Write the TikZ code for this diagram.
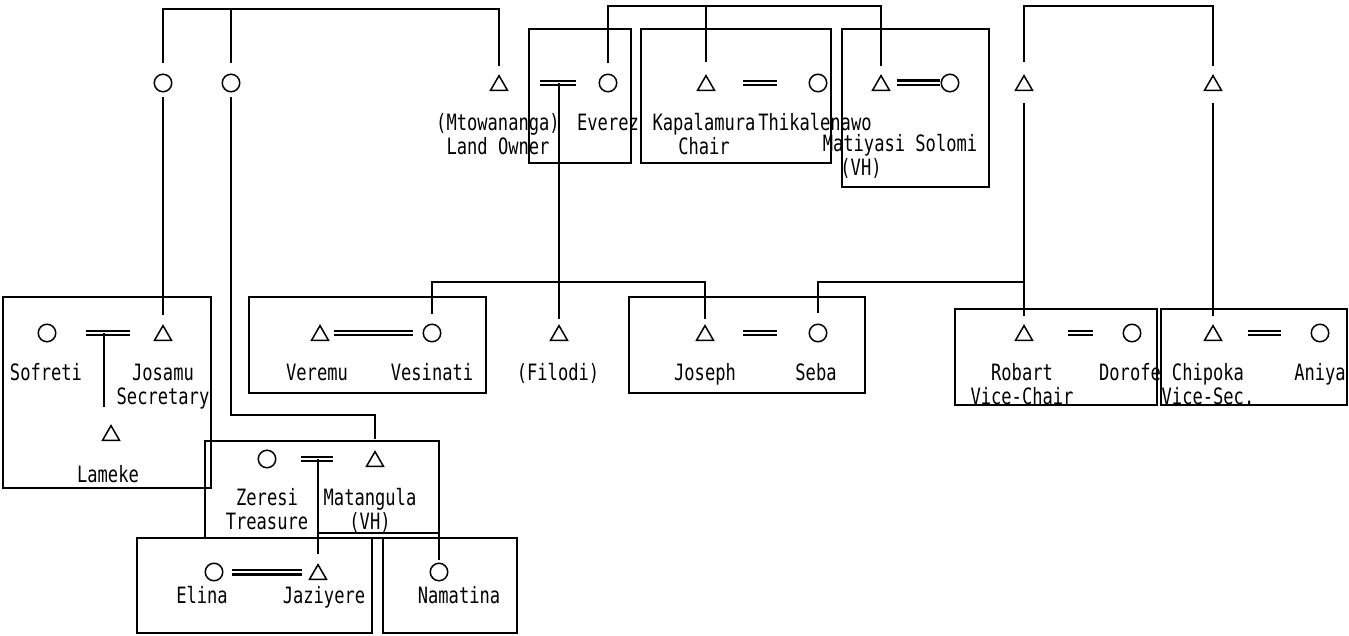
\documentclass[tikz,border=0pt]{standalone}
\usepackage{fontspec}
\newfontfamily\lblfont[FakeStretch=0.76]{DejaVu Sans Mono}
\usetikzlibrary{shapes.geometric,calc}
\begin{document}
\begin{tikzpicture}[x=1pt,y=-1pt,
  male/.style={regular polygon, regular polygon sides=3, draw, line width=1.5pt, minimum size=19.5pt, inner sep=0pt, yshift=-2.4pt},
  female/.style={circle, draw, line width=1.5pt, minimum size=17.5pt, inner sep=0pt},
  conn/.style={line width=1.3pt},
  marr/.style={double, line width=1.4pt, double distance=2.4pt},
  tmarr/.style={double, line width=2.8pt, double distance=1.4pt},
  frame/.style={line width=2pt},
  lab/.style={font=\lblfont\fontsize{22.5}{24}\selectfont, inner sep=0pt, anchor=base, align=center},
]
\useasboundingbox (0,0) rectangle (1349,636);

% ---------- frames ----------
\draw[frame] (529,29) rectangle (631,163);
\draw[frame] (641,29) rectangle (831,163);
\draw[frame] (842,29) rectangle (989,187);
\draw[frame] (3,297) rectangle (211,488);
\draw[frame] (249,297) rectangle (486,393);
\draw[frame] (629,297) rectangle (865,393);
\draw[frame] (955,309) rectangle (1157,405);
\draw[frame] (1161,309) rectangle (1347,405);
\draw[frame] (205,441) rectangle (439,538);
\draw[frame] (137,538) rectangle (372,633);
\draw[frame] (383,538) rectangle (517,633);

% ---------- symbols: row 1 ----------
\node[female] (c1) at (163,83) {};
\node[female] (c2) at (231,83) {};
\node[male] (tMt) at (499,83) {};
\node[female] (cEv) at (608,83) {};
\node[male] (tKap) at (706,83) {};
\node[female] (cThi) at (818,83) {};
\node[male] (tMat) at (881,83) {};
\node[female] (cSol) at (950,83) {};
\node[male] (tR1) at (1024,83) {};
\node[male] (tR2) at (1213,83) {};

% ---------- symbols: row 2 ----------
\node[female] (cSof) at (47,333) {};
\node[male] (tJos) at (163,333) {};
\node[male] (tLam) at (111,433) {};
\node[male] (tVer) at (320,333) {};
\node[female] (cVes) at (432,333) {};
\node[male] (tFil) at (559,333) {};
\node[male] (tJoe) at (705,333) {};
\node[female] (cSeb) at (818,333) {};
\node[male] (tRob) at (1024,333) {};
\node[female] (cDor) at (1132,333) {};
\node[male] (tChi) at (1213,333) {};
\node[female] (cAni) at (1320,333) {};

% ---------- symbols: row 3 ----------
\node[female] (cZer) at (267,459) {};
\node[male] (tMtg) at (375,459) {};
\node[female] (cEli) at (214,572) {};
\node[male] (tJaz) at (318,572) {};
\node[female] (cNam) at (439,572) {};

% ---------- marriage lines ----------
\coordinate (mEvA) at (540,83); \coordinate (mEvB) at (576,83); \coordinate (mEv) at (559,83);
\coordinate (mKapA) at (743,83); \coordinate (mKapB) at (777,83);
\coordinate (mMatA) at (897,83); \coordinate (mMatB) at (940,83);
\coordinate (mSofA) at (86,333); \coordinate (mSofB) at (130,333); \coordinate (mSof) at (104,333);
\coordinate (mVerA) at (334,333); \coordinate (mVerB) at (413,333);
\coordinate (mJoeA) at (743,333); \coordinate (mJoeB) at (777,333);
\coordinate (mRobA) at (1068,333); \coordinate (mRobB) at (1093,333);
\coordinate (mChiA) at (1248,333); \coordinate (mChiB) at (1281,333);
\coordinate (mZerA) at (301,459); \coordinate (mZerB) at (333,459); \coordinate (mZer) at (318,459);
\coordinate (mEliA) at (232,572); \coordinate (mEliB) at (302,572);

\draw[marr] (mEvA) -- (mEvB);
\draw[marr] (mKapA) -- (mKapB);
\draw[tmarr] (mMatA) -- (mMatB);
\draw[marr] (mSofA) -- (mSofB);
\draw[marr] (mVerA) -- (mVerB);
\draw[marr] (mJoeA) -- (mJoeB);
\draw[marr] (mRobA) -- (mRobB);
\draw[marr] (mChiA) -- (mChiB);
\draw[marr] (mZerA) -- (mZerB);
\draw[tmarr] (mEliA) -- (mEliB);

% ---------- connectors ----------
\coordinate (barA) at (300,9);
\draw[conn, shorten <=10pt, shorten >=8pt] (c1.north) |- (barA) -| (tMt.north);
\draw[conn, shorten >=10pt] (c2.north |- barA) -- (c2.north);

\coordinate (barB) at (750,6);
\draw[conn, shorten <=10pt, shorten >=8pt] (cEv.north) |- (barB) -| (tMat.north);
\draw[conn, shorten >=12pt] (tKap.north |- barB) -- (tKap.north);

\coordinate (barC) at (1100,6);
\draw[conn, shorten <=12pt, shorten >=8pt] (tR1.north) |- (barC) -| (tR2.north);

\draw[conn, shorten <=5pt, shorten >=9pt] (c1.south) -- (tJos.north);

\coordinate (bendC2) at (300,415);
\draw[conn, shorten <=5pt, shorten >=11pt] (c2.south) |- (bendC2) -| (tMtg.north);

\draw[conn, shorten >=5pt] (mEv) -- (tFil.north);

\coordinate (barD) at (600,282);
\draw[conn, shorten <=10pt, shorten >=5pt] (cVes.north) |- (barD) -| (tJoe.north);

\draw[conn, shorten <=12pt, shorten >=8pt] (tR1.south) -- (tRob.north);
\draw[conn, shorten <=11pt] (cSeb.north) |- (tR1.south |- barD);

\draw[conn, shorten <=12pt, shorten >=8pt] (tR2.south) -- (tChi.north);

\draw[conn, shorten >=17pt] (mSof) -- (mSof |- tLam.north);

\draw[conn, shorten >=9pt] (mZer) -- (tJaz.north);
\coordinate (barE) at (380,533);
\draw[conn, shorten >=3pt] (mZer |- barE) -| (cNam.north);

% ---------- labels (base = baseline of last line) ----------
\node[lab] (lMt) at (498,155) {(Mtowananga)\\Land Owner};
\node[lab] (lEv) at (608,131) {Everez};
\node[lab] (lKap) at (704,155) {Kapalamura\\Chair};
\node[lab] (lThi) at (815,131) {Thikalenawo};
\node[lab] (lMat) at (900,152) {Matiyasi Solomi};
\node[lab] (lVH1) at (861,176) {(VH)};

\node[lab] (lSof) at (46,380) {Sofreti};
\node[lab] (lJos) at (163,404) {Josamu\\Secretary};
\node[lab] (lLam) at (108,482) {Lameke};
\node[lab] (lVer) at (317,380) {Veremu};
\node[lab] (lVes) at (432,380) {Vesinati};
\node[lab] (lFil) at (558,380) {(Filodi)};
\node[lab] (lJoe) at (705,380) {Joseph};
\node[lab] (lSeb) at (816,380) {Seba};
\node[lab] (lRob) at (1022,404) {Robart\\Vice-Chair};
\node[lab] (lDor) at (1130,380) {Dorofe};
\node[lab] (lChi) at (1208,404) {Chipoka\\Vice-Sec.};
\node[lab] (lAni) at (1320,380) {Aniya};

\node[lab] (lZer) at (267,529) {Zeresi\\Treasure};
\node[lab] (lMtg) at (370,529) {Matangula\\(VH)};
\node[lab] (lEli) at (202,603) {Elina};
\node[lab] (lJaz) at (324,603) {Jaziyere};
\node[lab] (lNam) at (459,603) {Namatina};
\end{tikzpicture}
\end{document}
